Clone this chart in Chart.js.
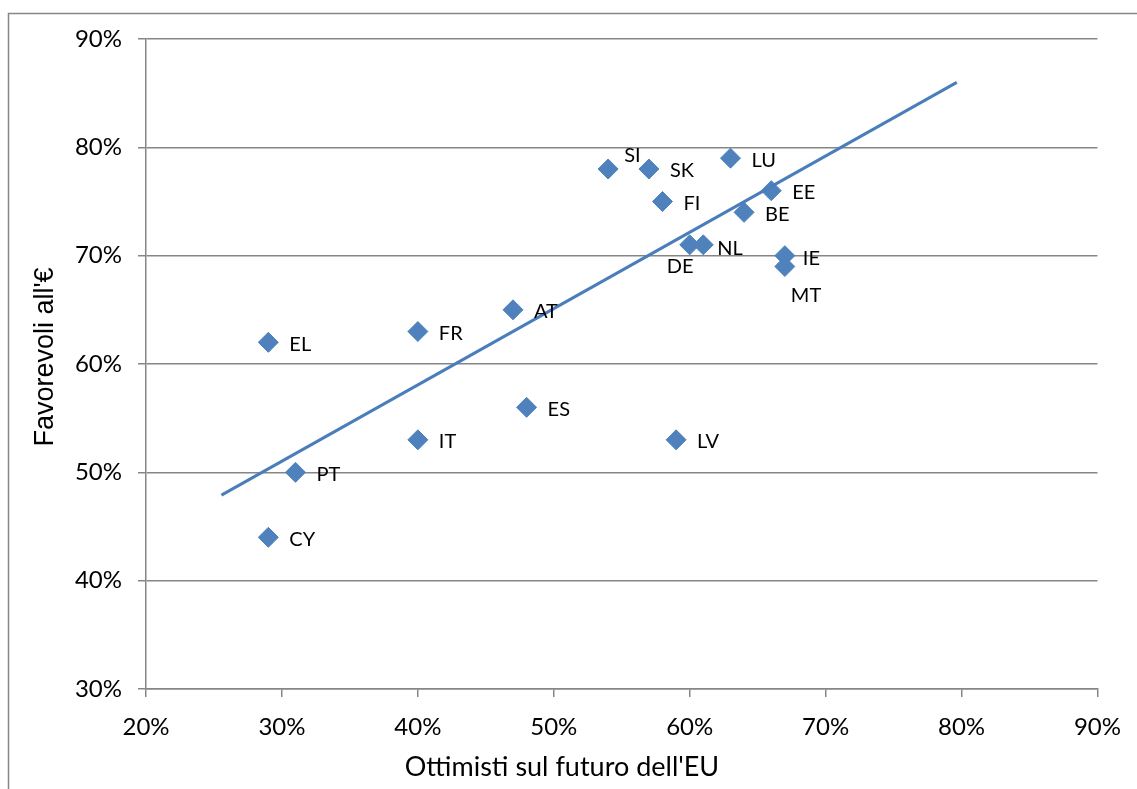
<!DOCTYPE html>
<html>
<head>
<meta charset="utf-8">
<script src="https://cdn.jsdelivr.net/npm/chart.js@4/dist/chart.umd.min.js"></script>
<style>
  html, body { margin: 0; padding: 0; background: #fff; }
  #wrap { width: 1137px; height: 789px; position: relative; }
</style>
</head>
<body>
<div id="wrap"><canvas id="c" width="1137" height="789"></canvas></div>
<script>
// Country codes and survey shares (%)
const countries = ['SI', 'SK', 'LU', 'FI', 'EE', 'BE', 'DE', 'NL', 'IE', 'MT', 'AT', 'FR', 'EL', 'ES', 'IT', 'LV', 'PT', 'CY'];
const optimists = [54, 57, 63, 58, 66, 64, 60, 61, 67, 67, 47, 40, 29, 48, 40, 59, 31, 29];
const favourable = [78, 78, 79, 75, 76, 74, 71, 71, 70, 69, 65, 63, 62, 56, 53, 53, 50, 44];

// Linear trend line end points (%)
const trendX = [25.55, 79.65];
const trendY = [47.9, 86.0];

// Axis ranges and tick step (%)
const xRange = [20, 90];
const yRange = [30, 90];
const tickStep = 10;

const blue = '#4F81BD';
const lineBlue = '#4A7EBB';
const gray = '#868686';
const labelFont = '20px Lato';
const tickFont = { family: 'Lato', size: 24 };

// Label placement tweaks (pixel offsets from the marker centre)
const labelShift = {
  SI: [16, -13], DE: [-23, 22], NL: [14, 4], MT: [6, 29], IE: [18, 3]
};

const points = countries.map((c, i) => ({ x: optimists[i], y: favourable[i], label: c }));
const trend = trendX.map((x, i) => ({ x: x, y: trendY[i] }));

const frame = {
  id: 'frame',
  beforeDraw(chart) {
    const ctx = chart.ctx;
    ctx.save();
    ctx.strokeStyle = gray;
    ctx.lineWidth = 1.5;
    ctx.beginPath();
    ctx.moveTo(8.5, 789);
    ctx.lineTo(8.5, 13.5);
    ctx.lineTo(1137, 13.5);
    ctx.stroke();
    ctx.restore();
  }
};

const pointLabels = {
  id: 'pointLabels',
  afterDatasetsDraw(chart) {
    const ctx = chart.ctx;
    const meta = chart.getDatasetMeta(1);
    ctx.save();
    ctx.font = labelFont;
    ctx.fillStyle = '#000';
    ctx.textAlign = 'left';
    ctx.textBaseline = 'middle';
    meta.data.forEach((el, i) => {
      const name = countries[i];
      const s = labelShift[name] || [21, 2];
      ctx.fillText(name, el.x + s[0], el.y + s[1]);
    });
    ctx.restore();
  }
};

const axisTitles = {
  id: 'axisTitles',
  afterDraw(chart) {
    const ctx = chart.ctx;
    ctx.save();
    ctx.fillStyle = '#000';
    ctx.font = '27px Lato';
    ctx.textAlign = 'center';
    ctx.textBaseline = 'middle';
    ctx.fillText("Ottimisti sul futuro dell'EU", 562, 767);
    ctx.translate(46, 357);
    ctx.rotate(-Math.PI / 2);
    ctx.font = '27px "Liberation Sans"';
    ctx.fillText("Favorevoli all'€", 0, 0);
    ctx.restore();
  }
};

new Chart(document.getElementById('c'), {
  type: 'scatter',
  data: {
    datasets: [
      {
        type: 'line',
        data: trend,
        borderColor: lineBlue,
        borderWidth: 3,
        pointRadius: 0,
        fill: false,
        order: 0
      },
      {
        data: points,
        pointStyle: 'rectRot',
        pointRadius: 10,
        pointHoverRadius: 10,
        backgroundColor: blue,
        borderColor: blue,
        borderWidth: 1,
        order: 1
      }
    ]
  },
  options: {
    responsive: false,
    animation: false,
    events: [],
    layout: { padding: { left: 8, top: 39, right: 26, bottom: 0 } },
    plugins: {
      legend: { display: false },
      tooltip: { enabled: false }
    },
    scales: {
      x: {
        type: 'linear',
        min: xRange[0],
        max: xRange[1],
        grid: { drawOnChartArea: false, drawTicks: true, tickLength: 8, color: gray, lineWidth: 1.5 },
        border: { color: gray, width: 1.5 },
        ticks: {
          stepSize: tickStep,
          color: '#000',
          font: tickFont,
          padding: 16,
          callback: v => v + '%'
        },
        afterFit(scale) { scale.height = 100; }
      },
      y: {
        type: 'linear',
        min: yRange[0],
        max: yRange[1],
        grid: { color: gray, lineWidth: 1.5, tickLength: 8 },
        border: { color: gray, width: 1.5 },
        ticks: {
          stepSize: tickStep,
          color: '#000',
          font: tickFont,
          padding: 16,
          callback: v => v + '%'
        },
        afterFit(scale) { scale.width = 138; }
      }
    }
  },
  plugins: [frame, pointLabels, axisTitles]
});
</script>
</body>
</html>
